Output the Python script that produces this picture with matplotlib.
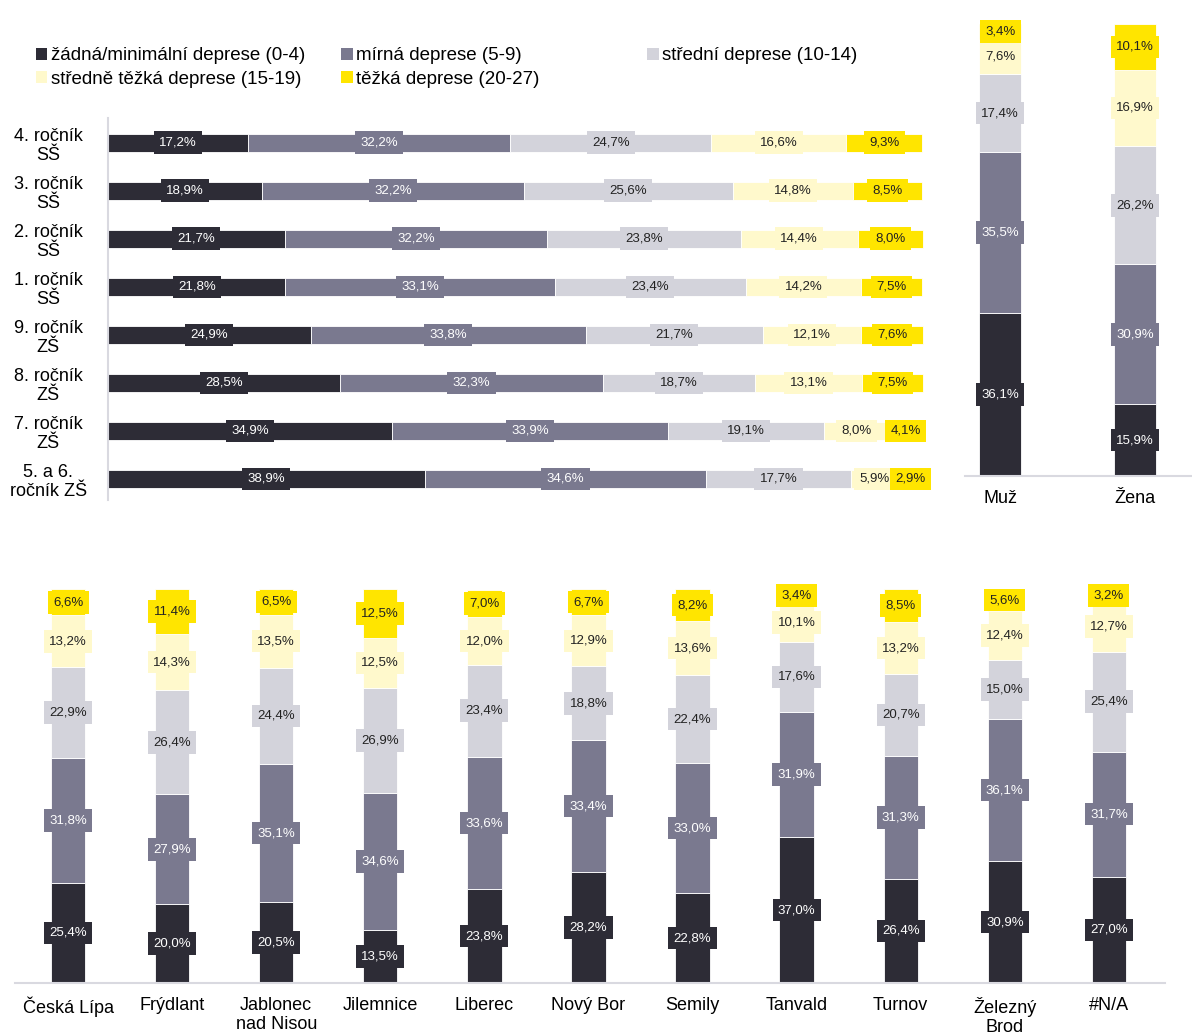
import matplotlib
matplotlib.use("Agg")
import matplotlib.pyplot as plt
import numpy as np
from matplotlib.patches import Patch

plt.rcParams['font.family'] = ['Liberation Sans', 'DejaVu Sans']

# kategorie deprese
levels = ["žádná/minimální deprese (0-4)", "mírná deprese (5-9)", "střední deprese (10-14)",
          "středně těžká deprese (15-19)", "těžká deprese (20-27)"]
colors = ["#2d2c36", "#7a798f", "#d3d3db", "#fff9cc", "#ffe500"]
text_colors = ["white", "white", "#222222", "#222222", "#222222"]

# ročníky (shora dolů)
grades = ["4. ročník\nSŠ", "3. ročník\nSŠ", "2. ročník\nSŠ", "1. ročník\nSŠ",
          "9. ročník\nZŠ", "8. ročník\nZŠ", "7. ročník\nZŠ", "5. a 6.\nročník ZŠ"]
grade_none = [17.2, 18.9, 21.7, 21.8, 24.9, 28.5, 34.9, 38.9]
grade_mild = [32.2, 32.2, 32.2, 33.1, 33.8, 32.3, 33.9, 34.6]
grade_mid = [24.7, 25.6, 23.8, 23.4, 21.7, 18.7, 19.1, 17.7]
grade_modsev = [16.6, 14.8, 14.4, 14.2, 12.1, 13.1, 8.0, 5.9]
grade_sev = [9.3, 8.5, 8.0, 7.5, 7.6, 7.5, 4.1, 2.9]

# pohlaví
sexes = ["Muž", "Žena"]
sex_none = [36.1, 15.9]
sex_mild = [35.5, 30.9]
sex_mid = [17.4, 26.2]
sex_modsev = [7.6, 16.9]
sex_sev = [3.4, 10.1]

# okresy / ORP
towns = ["Česká Lípa", "Frýdlant", "Jablonec\nnad Nisou", "Jilemnice", "Liberec", "Nový Bor",
         "Semily", "Tanvald", "Turnov", "Železný\nBrod", "#N/A"]
town_none = [25.4, 20.0, 20.5, 13.5, 23.8, 28.2, 22.8, 37.0, 26.4, 30.9, 27.0]
town_mild = [31.8, 27.9, 35.1, 34.6, 33.6, 33.4, 33.0, 31.9, 31.3, 36.1, 31.7]
town_mid = [22.9, 26.4, 24.4, 26.9, 23.4, 18.8, 22.4, 17.6, 20.7, 15.0, 25.4]
town_modsev = [13.2, 14.3, 13.5, 12.5, 12.0, 12.9, 13.6, 10.1, 13.2, 12.4, 12.7]
town_sev = [6.6, 11.4, 6.5, 12.5, 7.0, 6.7, 8.2, 3.4, 8.5, 5.6, 3.2]

LABEL_FONT = ['Liberation Sans Narrow', 'Liberation Sans', 'DejaVu Sans']
SPINE = "#d9d9e0"


def fmt(v):
    return f"{v:.1f}".replace('.', ',') + '%'


def put_label(ax, x, y, v, i):
    ax.text(x, y, fmt(v), ha='center', va='center', fontsize=9.5, family=LABEL_FONT,
            color=text_colors[i],
            bbox=dict(boxstyle='square,pad=0.4', facecolor=colors[i], edgecolor='none'))


def vertical_stack(ax, cats, series, width):
    x = np.arange(len(cats))
    bottom = np.zeros(len(cats))
    for i, vals in enumerate(series):
        vals = np.array(vals)
        ax.bar(x, vals, width, bottom=bottom, color=colors[i], edgecolor='white', linewidth=0.6)
        for xi, b, v in zip(x, bottom, vals):
            put_label(ax, xi, b + v / 2, v, i)
        bottom += vals
    ax.set_xticks(x)
    ax.set_xticklabels(cats, fontsize=13, linespacing=1.2)
    ax.tick_params(axis='x', length=0, pad=10)
    ax.set_yticks([])
    ax.set_ylim(0, 100)
    for s in ['top', 'right', 'left']:
        ax.spines[s].set_visible(False)
    ax.spines['bottom'].set_color(SPINE)
    ax.spines['bottom'].set_linewidth(1.5)


fig = plt.figure(figsize=(11.92, 10.33), dpi=100)

# horní levý graf - ročníky
ax1 = fig.add_axes([0.0906, 0.516, 0.694, 0.370])
y = np.arange(len(grades))
left = np.zeros(len(grades))
for i, vals in enumerate([grade_none, grade_mild, grade_mid, grade_modsev, grade_sev]):
    vals = np.array(vals)
    ax1.barh(y, vals, 0.375, left=left, color=colors[i], edgecolor='white', linewidth=0.6)
    for yi, l, v in zip(y, left, vals):
        put_label(ax1, l + v / 2, yi, v, i)
    left += vals
ax1.set_ylim(7.44, -0.52)
ax1.set_xlim(0, 101.6)
ax1.set_yticks(y)
ax1.set_yticklabels(grades, fontsize=13, linespacing=1.2, ha='center')
ax1.tick_params(axis='y', length=0, pad=43)
ax1.set_xticks([])
for s in ['top', 'right', 'bottom']:
    ax1.spines[s].set_visible(False)
ax1.spines['left'].set_color(SPINE)
ax1.spines['left'].set_linewidth(1.5)

# horní pravý graf - pohlaví
ax2 = fig.add_axes([0.8096, 0.5392, 0.1904, 0.4376])
vertical_stack(ax2, sexes, [sex_none, sex_mild, sex_mid, sex_modsev, sex_sev], 0.31)
ax2.set_xlim(-0.26, 1.42)

# dolní graf - ORP
ax3 = fig.add_axes([0.0126, 0.0484, 0.9648, 0.3814])
vertical_stack(ax3, towns, [town_none, town_mild, town_mid, town_modsev, town_sev], 0.33)
ax3.set_xlim(-0.51, 10.54)

# legenda - tři sloupce se stejnou šířkou
handles = [Patch(facecolor=c, edgecolor='none') for c in colors]
columns = [[0, 3], [1, 4], [2]]
col_x = [0.0235, 0.2802, 0.5369]
for idx, cx in zip(columns, col_x):
    leg = fig.legend([handles[k] for k in idx], [levels[k] for k in idx],
                     loc='upper left', bbox_to_anchor=(cx, 0.9613), frameon=False, fontsize=13.5,
                     handlelength=0.6, handleheight=0.6, handletextpad=0.2,
                     labelspacing=0.33, borderaxespad=0)

fig.savefig("out.png", dpi=100)
